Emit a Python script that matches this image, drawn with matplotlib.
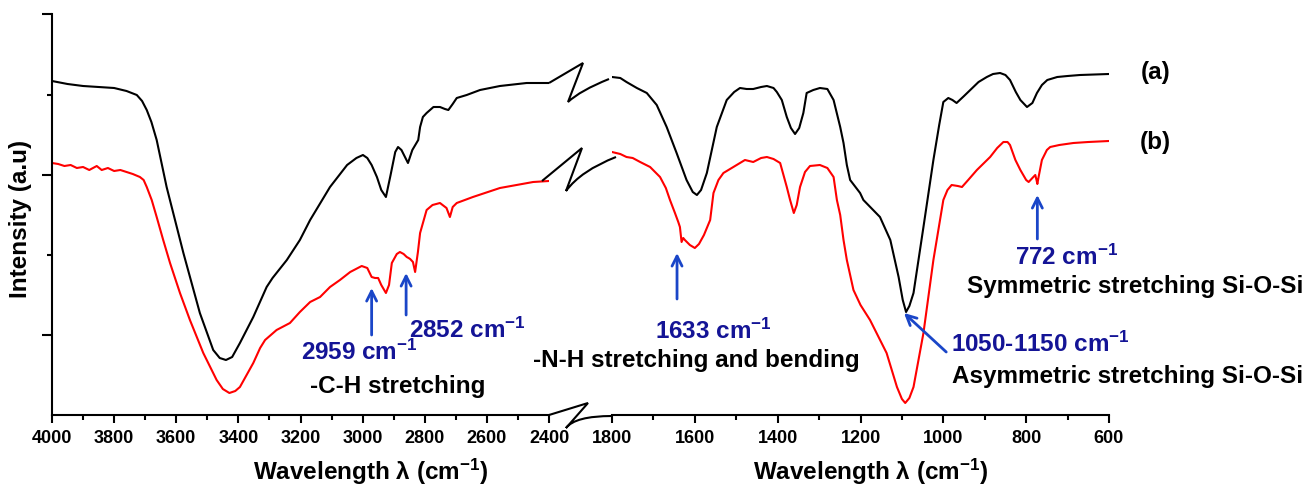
import matplotlib
matplotlib.use('Agg')
import matplotlib.pyplot as plt
from matplotlib.path import Path
from matplotlib.patches import PathPatch
from matplotlib.ticker import MultipleLocator, FixedLocator, NullFormatter

plt.rcParams['font.family'] = ['Liberation Sans', 'DejaVu Sans']
plt.rcParams['font.weight'] = 'bold'
plt.rcParams['mathtext.fontset'] = 'custom'
plt.rcParams['mathtext.rm'] = 'Liberation Sans:bold'
plt.rcParams['mathtext.bf'] = 'Liberation Sans:bold'
plt.rcParams['mathtext.it'] = 'Liberation Sans:bold'
plt.rcParams['mathtext.default'] = 'bf'

# ---------------- data (wavenumber cm-1, intensity a.u.) ----------------
a_left_x = [4000, 3950, 3900, 3850, 3800, 3760, 3727, 3710, 3695, 3680, 3663, 3631, 3577, 3524,
            3481, 3460, 3440, 3420, 3395, 3352, 3309, 3290, 3244, 3202, 3169, 3105, 3050, 3020,
            2999, 2985, 2971, 2954, 2940, 2925, 2910, 2895, 2886, 2875, 2854, 2840, 2821, 2815,
            2806, 2794, 2772, 2751, 2735, 2724, 2710, 2697, 2665, 2622, 2558, 2472, 2400]
a_left_y = [334, 331, 329, 328, 327, 324, 320, 314, 305, 293, 275, 228, 162, 102,
            65, 57, 55, 58, 72, 98, 128, 137, 155, 175, 195, 228, 250, 257,
            260, 257, 250, 238, 225, 218, 240, 263, 268, 265, 252, 265, 275, 288,
            298, 302, 308, 308, 306, 305, 311, 317, 320, 325, 329, 332, 332]

a_right_x = [1800, 1780, 1765, 1740, 1716, 1692, 1668, 1644, 1620, 1605, 1595, 1585, 1571, 1547,
             1523, 1505, 1491, 1475, 1459, 1440, 1426, 1410, 1402, 1390, 1378, 1368, 1358, 1348,
             1338, 1330, 1314, 1298, 1280, 1265, 1249, 1241, 1233, 1225, 1201, 1193, 1153, 1128,
             1108, 1098, 1090, 1082, 1072, 1048, 1024, 1010, 1000, 988, 978, 968, 950, 935,
             915, 895, 880, 863, 850, 839, 825, 814, 798, 785, 774, 762, 749, 725, 700, 670, 600]
a_right_y = [338, 337, 333, 327, 322, 310, 288, 262, 235, 223, 220, 225, 242, 288,
             315, 323, 327, 326, 326, 328, 329, 327, 323, 315, 298, 287, 281, 287,
             302, 322, 325, 327, 326, 315, 288, 272, 250, 235, 222, 215, 198, 175,
             138, 115, 103, 109, 122, 188, 255, 290, 313, 317, 315, 312, 319, 325,
             333, 338, 341, 342, 340, 335, 323, 315, 308, 312, 322, 330, 335, 338, 339, 340, 341]

b_left_x = [4000, 3980, 3960, 3940, 3920, 3900, 3880, 3856, 3840, 3820, 3800, 3780, 3760, 3740,
            3717, 3705, 3695, 3679, 3663, 3642, 3620, 3588, 3556, 3513, 3470, 3450, 3429, 3410,
            3395, 3352, 3330, 3314, 3277, 3234, 3202, 3169, 3137, 3105, 3073, 3040, 3003, 2985,
            2971, 2960, 2950, 2940, 2925, 2915, 2906, 2890, 2880, 2868, 2858, 2852, 2847, 2838,
            2831, 2822, 2815, 2794, 2775, 2751, 2730, 2719, 2710, 2697, 2645, 2558, 2451, 2400]
b_left_y = [252, 251, 249, 250, 247, 248, 245, 249, 245, 247, 244, 245, 243, 241,
            238, 235, 228, 215, 198, 175, 152, 122, 95, 62, 35, 26, 22, 24,
            28, 52, 67, 75, 85, 92, 103, 113, 118, 128, 135, 143, 149, 147,
            138, 137, 137, 130, 122, 130, 152, 161, 163, 161, 158, 157, 156, 153,
            143, 163, 182, 205, 210, 212, 207, 198, 208, 212, 218, 227, 233, 234]

b_right_x = [1800, 1780, 1765, 1750, 1732, 1708, 1684, 1670, 1660, 1648, 1640, 1636, 1632, 1628,
             1624, 1612, 1600, 1590, 1578, 1563, 1555, 1543, 1531, 1507, 1479, 1459, 1440, 1426,
             1410, 1394, 1378, 1370, 1361, 1354, 1346, 1334, 1322, 1298, 1280, 1265, 1257, 1249,
             1241, 1233, 1217, 1200, 1177, 1137, 1112, 1100, 1092, 1082, 1072, 1048, 1024, 1000,
             990, 980, 965, 955, 940, 919, 887, 870, 855, 845, 839, 826, 814, 800, 794, 785,
             778, 775, 773, 770, 762, 750, 742, 720, 686, 650, 600]
b_right_y = [263, 261, 258, 257, 253, 248, 238, 227, 215, 202, 193, 188, 173, 177,
             175, 170, 167, 171, 180, 195, 222, 235, 242, 248, 255, 253, 257, 258,
             256, 252, 228, 215, 202, 210, 228, 243, 249, 250, 247, 238, 215, 200,
             175, 155, 125, 110, 95, 62, 28, 16, 12, 17, 28, 82, 155, 215,
             225, 230, 229, 228, 235, 245, 258, 267, 273, 273, 270, 255, 245, 235, 233, 237,
             240, 235, 231, 238, 255, 265, 268, 270, 272, 273, 274]

left_ticks = [4000, 3800, 3600, 3400, 3200, 3000, 2800, 2600, 2400]
right_ticks = [1800, 1600, 1400, 1200, 1000, 800, 600]

series_labels = ['(a)', '(b)']
xlabel = 'Wavelength λ (cm$^{-1}$)'
ylabel = 'Intensity (a.u)'

TXT_BLUE = '#141496'
ARR_BLUE = '#1a46c8'
LW = 1.5

# ---------------- figure ----------------
W, H = 1312, 488
fig = plt.figure(figsize=(W / 100, H / 100), dpi=100)
ax1 = fig.add_axes([52 / W, 73 / H, 497 / W, 401 / H])
ax2 = fig.add_axes([612 / W, 73 / H, 497 / W, 401 / H])

for ax, (xl, xr), ticks in ((ax1, (4000, 2400), left_ticks), (ax2, (1800, 600), right_ticks)):
    ax.set_xlim(xl, xr)
    ax.set_ylim(0, 401)
    ax.set_xticks(ticks)
    ax.set_xticklabels([str(t) for t in ticks])
    ax.xaxis.set_minor_locator(MultipleLocator(100))
    for s in ('top', 'right'):
        ax.spines[s].set_visible(False)
    for s in ('left', 'bottom'):
        ax.spines[s].set_linewidth(LW)
    ax.tick_params(axis='both', which='major', direction='out', length=6, width=LW,
                   labelsize=13, pad=5)
    ax.tick_params(axis='both', which='minor', direction='out', length=3.5, width=LW)
    for lab in ax.get_xticklabels():
        lab.set_fontweight('bold')
    ax.set_xlabel(xlabel, fontsize=17.5, fontweight='bold')
    ax.patch.set_alpha(0)

ax1.xaxis.set_label_coords(0.642, -0.105)
ax2.xaxis.set_label_coords(0.521, -0.105)

ax1.yaxis.set_major_locator(FixedLocator([80, 240, 401]))
ax1.yaxis.set_minor_locator(FixedLocator([160, 320]))
ax1.yaxis.set_major_formatter(NullFormatter())
ax1.tick_params(axis='y', which='major', length=7)
ax1.set_ylabel(ylabel, fontsize=17.5, fontweight='bold')
ax1.yaxis.set_label_coords(-0.04, 0.49)

ax2.spines['left'].set_visible(False)
ax2.yaxis.set_visible(False)

# curves
ax1.plot(a_left_x, a_left_y, color='black', lw=LW, solid_joinstyle='round')
ax1.plot(b_left_x, b_left_y, color='#ff0000', lw=LW, solid_joinstyle='round')
ax2.plot(a_right_x, a_right_y, color='black', lw=LW, solid_joinstyle='round')
ax2.plot(b_right_x, b_right_y, color='#ff0000', lw=LW, solid_joinstyle='round')

# series labels
ax2.text(488, 343, series_labels[0], fontsize=17.5, fontweight='bold', ha='center', va='center')
ax2.text(488, 273, series_labels[1], fontsize=17.5, fontweight='bold', ha='center', va='center')

# ---------------- annotations ----------------
def arrow(ax, head, tail):
    ax.annotate('', xy=head, xytext=tail,
                arrowprops=dict(arrowstyle='->', color=ARR_BLUE, lw=2,
                                mutation_scale=18, shrinkA=0, shrinkB=0))

arrow(ax1, (2971, 127), (2971, 80))
arrow(ax1, (2860, 142), (2860, 100))
arrow(ax2, (1643, 162), (1643, 116))
arrow(ax2, (773, 220), (773, 176))
arrow(ax2, (1095, 102), (993, 63))

tk = dict(fontsize=17.5, fontweight='bold', ha='center', va='center')
ax1.text(3012, 63, '2959 cm$^{-1}$', color=TXT_BLUE, **tk)
ax1.text(2661, 85, '2852 cm$^{-1}$', color=TXT_BLUE, **tk)
ax1.text(2886, 28, '-C-H stretching', color='black', **tk)
ax2.text(1556, 84, '1633 cm$^{-1}$', color=TXT_BLUE, **tk)
ax2.text(1597, 54, '-N-H stretching and bending', color='black', **tk)
ax2.text(703, 158, '772 cm$^{-1}$', color=TXT_BLUE, **tk)
ax2.text(537, 129, 'Symmetric stretching Si-O-Si', color='black', **tk)
ax2.text(766, 71, '1050-1150 cm$^{-1}$', color=TXT_BLUE, **tk)
ax2.text(554, 38, 'Asymmetric stretching Si-O-Si', color='black', **tk)

# ---------------- break marks ----------------
to_fig = fig.transFigure.inverted()

def break_mark(p_left, p_right, start_dx, peak, trough, end_d, bend):
    x0, y0 = p_left
    s = (x0 + start_dx, y0)
    pk = (x0 + peak[0], y0 + peak[1])
    tr = (x0 + trough[0], y0 + trough[1])
    en = (p_right[0] + end_d[0], p_right[1] + end_d[1])
    ctrl = (tr[0] + bend[0] * (en[0] - tr[0]), tr[1] + bend[1] * (en[1] - tr[1]))
    verts = to_fig.transform([s, pk, tr, ctrl, en])
    codes = [Path.MOVETO, Path.LINETO, Path.LINETO, Path.CURVE3, Path.CURVE3]
    patch = PathPatch(Path(verts, codes), transform=fig.transFigure, fill=False,
                      lw=LW, edgecolor='black', joinstyle='miter', capstyle='butt')
    fig.add_artist(patch)

break_mark(ax1.transData.transform((2400, a_left_y[-1])),
           ax2.transData.transform((1800, a_right_y[0])),
           0, (34, 20), (19, -19), (-3, -2), (0.3, 0.5))
break_mark(ax1.transData.transform((2400, b_left_y[-1])),
           ax2.transData.transform((1800, b_right_y[0])),
           -7, (33, 33), (17, -10), (4, -5), (0.3, 0.6))
break_mark(ax1.transData.transform((2400, 0)),
           ax2.transData.transform((1800, 0)),
           0, (39, 12), (17, -13), (0, -1), (0.2, 1.0))

fig.savefig('out.png', dpi=100)
